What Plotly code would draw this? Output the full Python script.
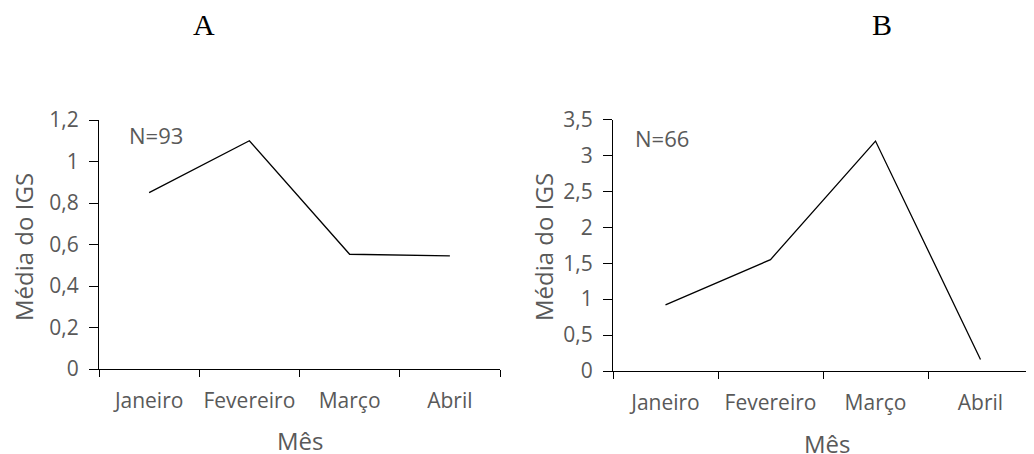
import plotly.graph_objects as go

meses = ["Janeiro", "Fevereiro", "Março", "Abril"]
igs_a = [0.85, 1.10, 0.553, 0.545]
igs_b = [0.92, 1.55, 3.20, 0.16]
n_a = "N=93"
n_b = "N=66"

GREY = "#595959"
FONT = "Open Sans"
# the page body has an 8px margin, so positions below are shifted by it
OFF = 8
W, H = 1034, 454

fig = go.Figure()
fig.add_trace(go.Scatter(x=meses, y=igs_a, mode="lines",
                         line=dict(color="black", width=1.3),
                         xaxis="x", yaxis="y", showlegend=False))
fig.add_trace(go.Scatter(x=meses, y=igs_b, mode="lines",
                         line=dict(color="black", width=1.3),
                         xaxis="x2", yaxis="y2", showlegend=False))

xax = dict(type="category", tickson="boundaries", range=[-0.5, 3.5],
           showline=True, linecolor="black", linewidth=1.3,
           ticks="outside", ticklen=7, tickcolor="black", tickwidth=1.3,
           ticklabelstandoff=13, tickangle=0,
           showgrid=False, zeroline=False, automargin=False,
           tickfont=dict(family=FONT, size=21, color=GREY))
yax = dict(showline=True, linecolor="black", linewidth=1.3,
           ticks="outside", ticklen=9, tickcolor="black", tickwidth=1.3,
           ticklabelstandoff=6,
           showgrid=False, zeroline=False, automargin=False,
           tickfont=dict(family=FONT, size=21, color=GREY))


def px(x):
    return (x - OFF) / W


def py(y):
    return (H - (y - OFF)) / H


title_font = dict(family=FONT, size=24, color=GREY)
n_font = dict(family=FONT, size=22, color=GREY)
letter_font = dict(family="Liberation Serif", size=30, color="black")


def note(text, x, y, font, **kw):
    return dict(text=text, x=px(x), y=py(y), xref="paper", yref="paper",
                xanchor=kw.pop("xanchor", "center"), yanchor="middle",
                showarrow=False, font=font, **kw)


fig.update_layout(
    width=W, height=H,
    margin=dict(l=0, r=0, t=0, b=0),
    paper_bgcolor="white", plot_bgcolor="white",
    separators=",.",
    xaxis=dict(xax, domain=[px(99), px(500)], anchor="y"),
    yaxis=dict(yax, domain=[py(369), py(120)], anchor="x",
               range=[0, 1.2], dtick=0.2),
    xaxis2=dict(xax, domain=[px(613), px(1033)], anchor="y2"),
    yaxis2=dict(yax, domain=[py(371), py(119.5)], anchor="x2",
                range=[0, 3.5], dtick=0.5),
    annotations=[
        note("A", 204, 25, letter_font),
        note("B", 882, 25, letter_font),
        note(n_a, 127, 135, n_font, xanchor="left"),
        note(n_b, 633, 138, n_font, xanchor="left"),
        note("Média do IGS", 23, 247, title_font, textangle=-90),
        note("Média do IGS", 543, 247, title_font, textangle=-90),
        note("Mês", 300, 440, title_font),
        note("Mês", 827, 443, title_font),
    ],
)

fig.write_html("out.html")
